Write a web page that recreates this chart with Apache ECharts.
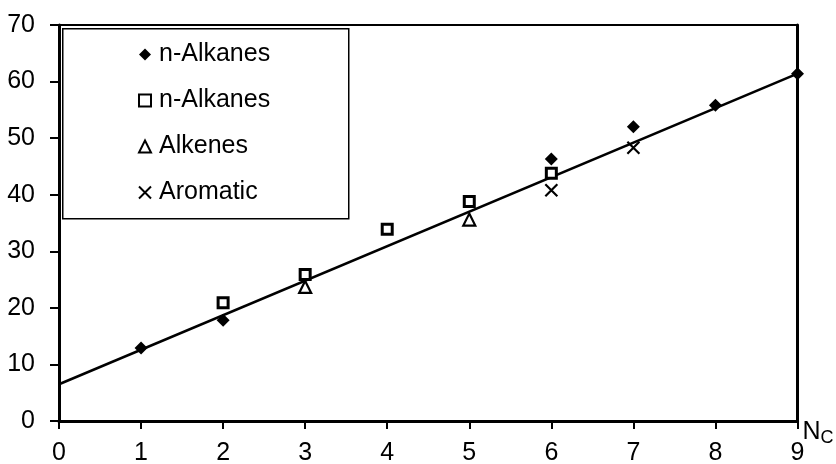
<!DOCTYPE html>
<html>
<head>
<meta charset="utf-8">
<script src="https://cdn.jsdelivr.net/npm/echarts@6/dist/echarts.min.js"></script>
<style>html,body{margin:0;padding:0;background:#fff;}#chart{width:836px;height:464px;}</style>
</head>
<body>
<div id="chart"></div>
<script>
// ---- data ----
var xTicks = [0, 1, 2, 3, 4, 5, 6, 7, 8, 9];
var yTicks = [0, 10, 20, 30, 40, 50, 60, 70];

var seriesNames = ['n-Alkanes', 'n-Alkanes ', 'Alkenes', 'Aromatic'];

var alkDiamondX = [1, 2, 6, 7, 8, 9];
var alkDiamondY = [12.9, 17.8, 46.3, 52.0, 55.8, 61.4];

var alkSquareX = [2, 3, 4, 5, 6];
var alkSquareY = [20.9, 25.9, 33.9, 38.8, 43.8];

var alkeneX = [3, 5];
var alkeneY = [23.7, 35.6];

var aromaticX = [6, 7];
var aromaticY = [40.8, 48.3];

var fitX = [0, 9];
var fitY = [6.5, 61.4];

function pairs(xs, ys) { return xs.map(function (x, i) { return [x, ys[i]]; }); }

var FONT = "'Liberation Sans', Arial, sans-serif";
var INK = '#000';
var chart = echarts.init(document.getElementById('chart'), null, { renderer: 'canvas' });

var option = {
  backgroundColor: '#fff',
  animation: false,
  textStyle: { fontFamily: FONT, color: INK },
  grid: { left: 59, right: 38.5, top: 25, bottom: 43, containLabel: false, outerBoundsMode: 'none' },
  graphic: [{
    type: 'rect', left: 62, top: 28, z: 5,
    shape: { width: 286, height: 190 },
    style: { fill: '#fff', stroke: INK, lineWidth: 1.5 }
  }],
  legend: {
    orient: 'vertical', left: 133, top: 37, z: 10,
    itemGap: 21, itemWidth: 12, itemHeight: 12,
    textStyle: { fontFamily: FONT, fontSize: 25, color: INK, padding: [0, 0, 0, 3] },
    data: seriesNames
  },
  xAxis: [{
    type: 'value', min: 0, max: 9, interval: 1, position: 'bottom',
    name: '{n|N}{c|C}', nameLocation: 'end', nameGap: 5, nameMoveOverlap: false,
    nameTextStyle: {
      padding: [22, 0, 0, 0],
      rich: {
        n: { fontFamily: FONT, fontSize: 25, color: INK },
        c: { fontFamily: FONT, fontSize: 18, color: INK, padding: [12, 0, 0, 0] }
      }
    },
    axisLine: { onZero: false, lineStyle: { color: INK, width: 3 } },
    axisTick: { show: true, inside: false, length: 8, lineStyle: { color: INK, width: 2 } },
    axisLabel: { fontFamily: FONT, fontSize: 25, color: INK, margin: 20 },
    splitLine: { show: false }
  }, {
    type: 'value', min: 0, max: 9, interval: 1, position: 'top',
    axisLine: { show: true, onZero: false, lineStyle: { color: INK, width: 2 } },
    axisTick: { show: false }, axisLabel: { show: false }, splitLine: { show: false }
  }],
  yAxis: [{
    type: 'value', min: 0, max: 70, interval: 10, position: 'left',
    axisLine: { show: true, onZero: false, lineStyle: { color: INK, width: 3 } },
    axisTick: { show: true, inside: false, length: 9, lineStyle: { color: INK, width: 2 } },
    axisLabel: { fontFamily: FONT, fontSize: 25, color: INK, margin: 24 },
    splitLine: { show: false }
  }, {
    type: 'value', min: 0, max: 70, interval: 10, position: 'right',
    axisLine: { show: true, onZero: false, lineStyle: { color: INK, width: 3 } },
    axisTick: { show: false }, axisLabel: { show: false }, splitLine: { show: false }
  }],
  series: [
    {
      type: 'line', data: pairs(fitX, fitY), symbol: 'none', silent: true, z: 1,
      lineStyle: { color: INK, width: 2.5 }
    },
    {
      name: seriesNames[0], type: 'scatter', data: pairs(alkDiamondX, alkDiamondY),
      symbol: 'diamond', symbolSize: 13, z: 3,
      itemStyle: { color: INK, opacity: 1 }
    },
    {
      name: seriesNames[1], type: 'scatter', data: pairs(alkSquareX, alkSquareY),
      symbol: 'rect', symbolSize: 10, z: 3,
      itemStyle: { color: '#fff', borderColor: INK, borderWidth: 3, opacity: 1 }
    },
    {
      name: seriesNames[2], type: 'scatter', data: pairs(alkeneX, alkeneY),
      symbol: 'triangle', symbolSize: [12, 12], z: 3,
      itemStyle: { color: '#fff', borderColor: INK, borderWidth: 2.2, opacity: 1 }
    },
    {
      name: seriesNames[3], type: 'scatter', data: pairs(aromaticX, aromaticY),
      symbol: 'path://M0,0L10,10M10,0L0,10', symbolSize: 12, z: 3,
      itemStyle: { color: 'rgba(0,0,0,0)', borderColor: INK, borderWidth: 2.2, opacity: 1 }
    }
  ]
};
chart.setOption(option);
</script>
</body>
</html>
